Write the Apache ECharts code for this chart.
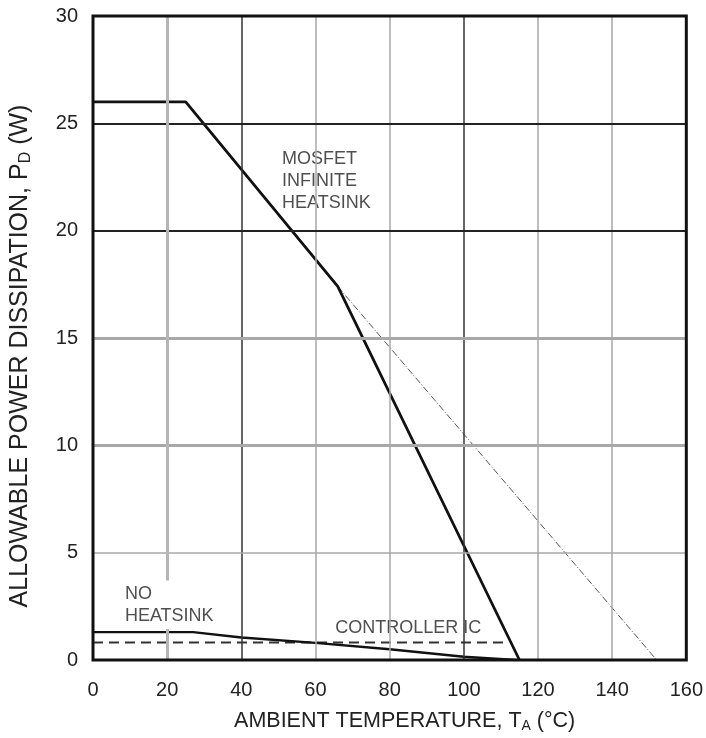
<!DOCTYPE html>
<html>
<head>
<meta charset="utf-8">
<script src="https://cdn.jsdelivr.net/npm/echarts@6/dist/echarts.min.js"></script>
<style>
html,body{margin:0;padding:0;background:#fff;}
#chart{width:706px;height:738px;}
</style>
</head>
<body>
<div id="chart"></div>
<script>
// ---- data ----
const mosfetT = [0, 25, 66, 115];
const mosfetP = [26, 26, 17.4, 0];
const infiniteT = [66, 152];
const infiniteP = [17.4, 0];
const noSinkT = [0, 27, 40, 60, 80, 100, 114];
const noSinkP = [1.3, 1.3, 1.05, 0.8, 0.5, 0.15, 0];
const ctrlT = [0, 112];
const ctrlP = [0.82, 0.82];
const xTicks = [0, 20, 40, 60, 80, 100, 120, 140, 160];
const yTicks = [0, 5, 10, 15, 20, 25, 30];

const zip = (a, b) => a.map((v, i) => [v, b[i]]);

const FONT = '"Liberation Sans", Arial, sans-serif';
const DARK = '#222';
const GRAY = '#a8a8a8';

// grid line styles (by tick value)
const vStyle = {
  40: {color: '#333', width: 1.5},
  60: {color: GRAY, width: 1.5},
  80: {color: GRAY, width: 1.5},
  100: {color: '#333', width: 1.5},
  120: {color: GRAY, width: 1.5},
  140: {color: GRAY, width: 1.5}
};
const hStyle = {
  5: {color: GRAY, width: 1.5},
  10: {color: GRAY, width: 3},
  15: {color: GRAY, width: 3},
  20: {color: '#222', width: 2},
  25: {color: '#222', width: 2}
};
const gridLines = [];
xTicks.forEach(t => { if (vStyle[t]) gridLines.push({xAxis: t, lineStyle: Object.assign({type: 'solid'}, vStyle[t])}); });
yTicks.forEach(t => { if (hStyle[t]) gridLines.push({yAxis: t, lineStyle: Object.assign({type: 'solid'}, hStyle[t])}); });
// broken 20°C line (gap around the NO HEATSINK label)
const broken = {color: '#b5b5b5', width: 3, type: 'solid'};
gridLines.push([{coord: [20, 3.7], lineStyle: broken}, {coord: [20, 30]}]);
gridLines.push([{coord: [20, 0], lineStyle: broken}, {coord: [20, 1.45]}]);

const chart = echarts.init(document.getElementById('chart'), null, {renderer: 'canvas'});
const option = {
  animation: false,
  backgroundColor: '#fff',
  grid: {left: 93, right: 14, top: 16, bottom: 75, show: true, borderColor: '#111', borderWidth: 3, z: 10},
  xAxis: {
    type: 'value', min: 0, max: 160, interval: 20,
    axisLine: {show: false}, axisTick: {show: false}, splitLine: {show: false},
    axisLabel: {fontFamily: FONT, fontSize: 20, color: DARK, margin: 20},
    name: '{a|AMBIENT TEMPERATURE, T}{s|A}{a| (°C)}',
    nameLocation: 'middle', nameGap: 50,
    nameTextStyle: {
      padding: [0, 0, 0, 30],
      rich: {
        a: {fontFamily: FONT, fontSize: 21.5, color: DARK},
        s: {fontFamily: FONT, fontSize: 14, color: DARK, verticalAlign: 'bottom', padding: [0, 0, -1, 0]}
      }
    }
  },
  yAxis: {
    type: 'value', min: 0, max: 30, interval: 5,
    axisLine: {show: false}, axisTick: {show: false}, splitLine: {show: false},
    axisLabel: {fontFamily: FONT, fontSize: 20, color: DARK, margin: 15},
    name: '{a|ALLOWABLE POWER DISSIPATION, P}{s|D}{a| (W)}',
    nameLocation: 'middle', nameGap: 60, nameRotate: 90,
    nameTextStyle: {
      padding: [0, 36, 0, 0],
      rich: {
        a: {fontFamily: FONT, fontSize: 25, color: DARK},
        s: {fontFamily: FONT, fontSize: 16, color: DARK, verticalAlign: 'bottom', padding: [0, 0, -1, 0]}
      }
    }
  },
  series: [
    {
      type: 'line', data: [], silent: true,
      markLine: {symbol: 'none', silent: true, animation: false, label: {show: false}, data: gridLines}
    },
    {
      type: 'line', data: zip(infiniteT, infiniteP), symbol: 'none', silent: true,
      lineStyle: {color: '#555', width: 1, type: [7, 2, 1, 2]}
    },
    {
      type: 'line', data: zip(ctrlT, ctrlP), symbol: 'none', silent: true,
      lineStyle: {color: '#333', width: 2, type: [10, 6]}
    },
    {
      type: 'line', data: zip(noSinkT, noSinkP), symbol: 'none', silent: true,
      lineStyle: {color: '#111', width: 2.4}
    },
    {
      type: 'line', data: zip(mosfetT, mosfetP), symbol: 'none', silent: true,
      lineStyle: {color: '#111', width: 2.8}
    },
    {
      type: 'scatter', symbolSize: 0, silent: true,
      data: [
        {value: [51, 22.3], label: {formatter: 'MOSFET\nINFINITE\nHEATSINK'}},
        {value: [8.6, 2.55], label: {formatter: 'NO\nHEATSINK'}},
        {value: [65.3, 1.5], label: {formatter: 'CONTROLLER IC'}}
      ],
      label: {show: true, position: 'right', distance: 0, fontFamily: FONT, fontSize: 18, color: '#222', lineHeight: 22, align: 'left'}
    }
  ]
};
chart.setOption(option);
</script>
</body>
</html>
